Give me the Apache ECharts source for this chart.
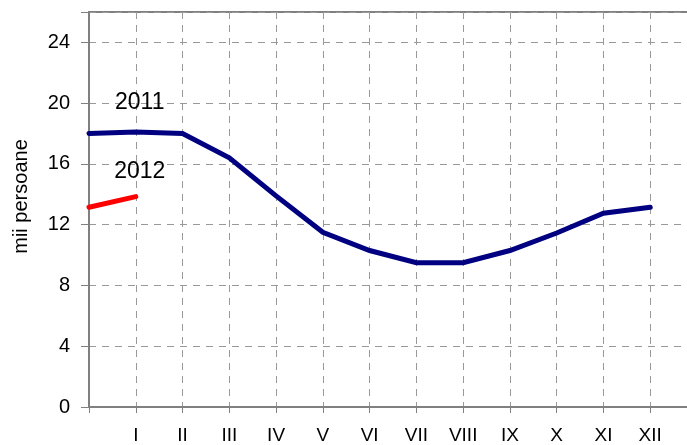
<!DOCTYPE html>
<html>
<head>
<meta charset="utf-8">
<script src="https://cdn.jsdelivr.net/npm/echarts@6/dist/echarts.min.js"></script>
<style>
html,body{margin:0;padding:0;background:#fff;}
#chart{width:687px;height:445px;}
</style>
</head>
<body>
<div id="chart"></div>
<script>
// Categories: first point is December of the previous year (unlabelled), trailing blank slot
const categories = ['', 'I', 'II', 'III', 'IV', 'V', 'VI', 'VII', 'VIII', 'IX', 'X', 'XI', 'XII', ''];
const series2011 = [18.0, 18.1, 18.0, 16.4, 13.9, 11.5, 10.3, 9.5, 9.5, 10.3, 11.45, 12.75, 13.15];
const series2012 = [13.15, 13.85];
const yTicks = [0, 4, 8, 12, 16, 20, 24];
const yName = 'mii persoane';
const names = ['2011', '2012'];

const FONT = '"Liberation Sans", Arial, sans-serif';

function withLabel(arr, idx, offsetY) {
  return arr.map((v, i) => i === idx ? {
    value: v,
    label: {
      show: true,
      position: 'top',
      distance: 0,
      offset: [4, offsetY],
      formatter: '{a}',
      color: '#000',
      fontSize: 23,
      fontFamily: FONT
    }
  } : v);
}

const chart = echarts.init(document.getElementById('chart'));
chart.setOption({
  animation: false,
  grid: {
    left: 89, width: 608, top: 12, bottom: 38,
    outerBoundsMode: 'none', containLabel: false,
    show: true, borderColor: '#808080', borderWidth: 2, backgroundColor: 'transparent'
  },
  xAxis: {
    type: 'category',
    data: categories,
    boundaryGap: false,
    axisLine: { lineStyle: { color: '#808080', width: 2 } },
    axisTick: { show: true, length: 6, lineStyle: { color: '#808080', width: 1 }, interval: 0 },
    axisLabel: { color: '#000', fontSize: 19, fontFamily: FONT, margin: 19, interval: 0 },
    splitLine: { show: true, interval: 0, lineStyle: { color: '#999', type: [7, 6], width: 1 } }
  },
  yAxis: {
    type: 'value',
    min: 0, max: 26, interval: 4,
    name: yName,
    nameLocation: 'middle',
    nameGap: 58,
    nameTextStyle: { color: '#000', fontSize: 20, fontFamily: FONT, padding: [0, 0, 0, 26] },
    axisLine: { show: true, lineStyle: { color: '#808080', width: 2 } },
    axisTick: { show: true, length: 8, lineStyle: { color: '#808080', width: 1 } },
    axisLabel: {
      color: '#000', fontSize: 20, fontFamily: FONT, margin: 19,
      formatter: v => yTicks.indexOf(v) >= 0 ? String(v) : ''
    },
    splitLine: { show: true, lineStyle: { color: '#999', type: [7, 6], width: 1 } }
  },
  series: [
    {
      name: names[0], type: 'line', data: withLabel(series2011, 1, -18),
      symbol: 'circle', symbolSize: 0.01, showSymbol: true,
      lineStyle: { color: '#000080', width: 5, cap: 'round', join: 'miter' },
      itemStyle: { color: '#000080' }, z: 3
    },
    {
      name: names[1], type: 'line', data: withLabel(series2012, 1, -13),
      symbol: 'circle', symbolSize: 0.01, showSymbol: true,
      lineStyle: { color: '#ff0000', width: 5, cap: 'round' },
      itemStyle: { color: '#ff0000' }, z: 4
    }
  ]
});
</script>
</body>
</html>
